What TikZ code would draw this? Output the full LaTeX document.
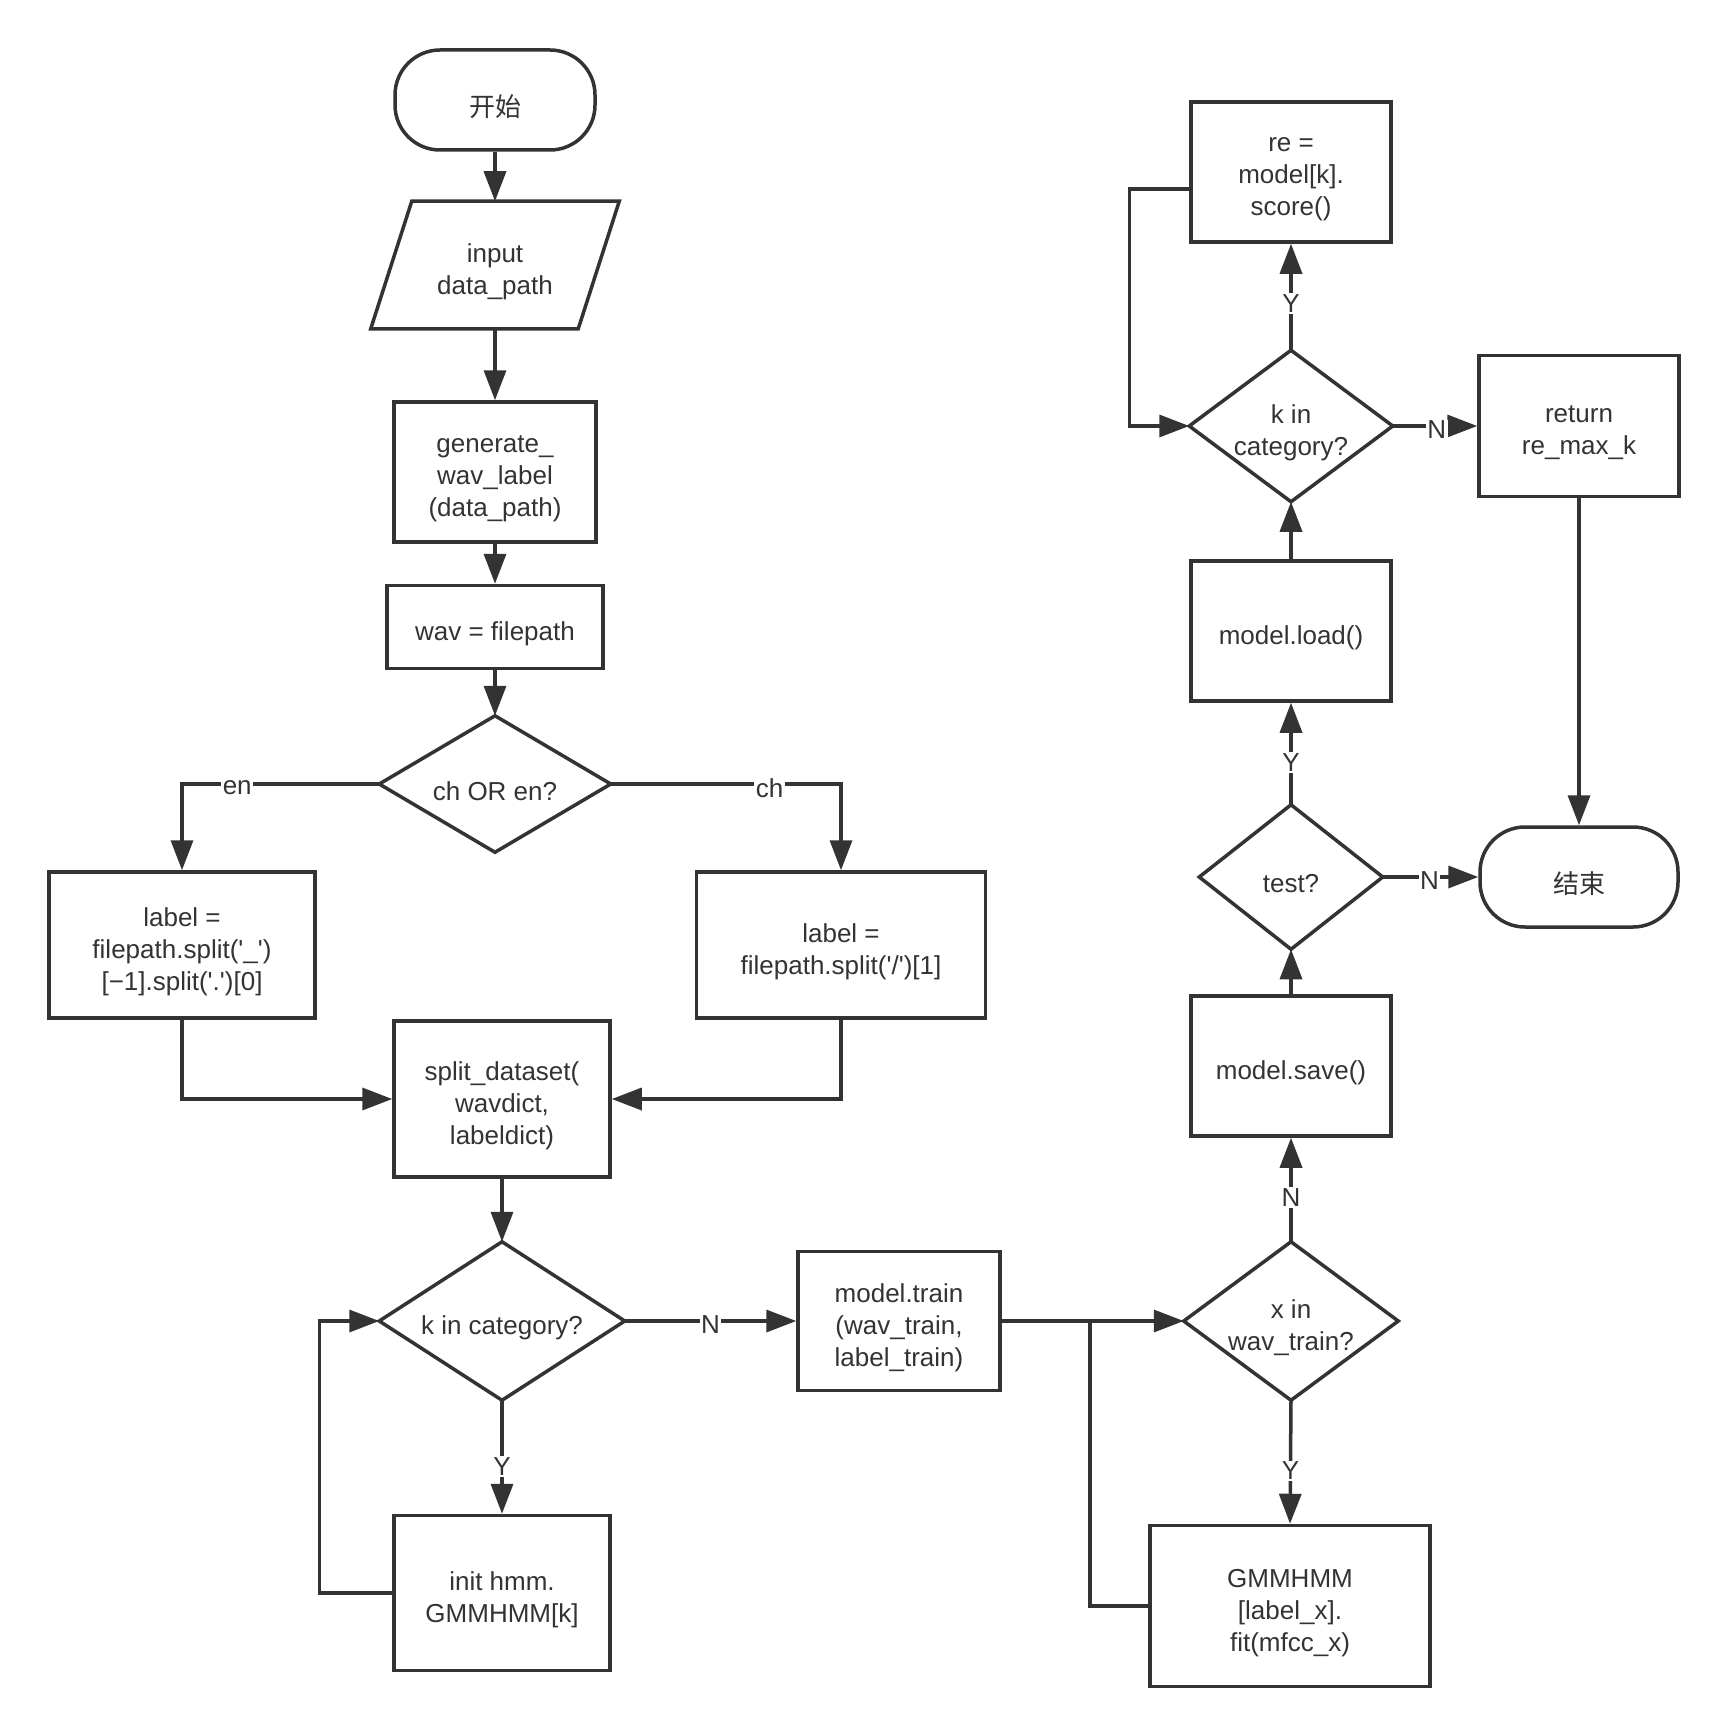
\documentclass[tikz,border=0pt]{standalone}
\usepackage{fontspec}
\newfontfamily\mf{Liberation Sans}
\newfontfamily\cjk{Noto Sans CJK SC}
\usetikzlibrary{arrows.meta}
\definecolor{ink}{HTML}{333333}
\begin{document}
\begin{tikzpicture}[x=1pt,y=-1pt,line width=3.5pt,color=ink,
  font=\mf\fontsize{26}{32}\selectfont,
  box/.style 2 args={draw,rectangle,inner sep=0pt,minimum width=#1,minimum height=#2},
  hid/.style 2 args={rectangle,inner sep=0pt,minimum width=#1,minimum height=#2},
  term/.style 2 args={draw,rectangle,rounded corners=45pt,inner sep=0pt,minimum width=#1,minimum height=#2},
  T/.style={label={[align=center,inner sep=0pt,yshift=-7pt]center:{#1}}},
  arr/.style={-{Triangle[length=30pt,width=22pt]}},
  lbl/.style={fill=white,inner sep=1.5pt,yshift=-4pt}]
\useasboundingbox (0,0) rectangle (1729,1736);
% left column
\node[term={200pt}{100pt},T={\cjk 开始}] (start) at (495,100) {};
\node[hid={204pt}{124pt},T={input\\data\_path}] (inp) at (495,265) {};
\draw ([xshift=20.5pt]inp.north west) -- ([xshift=20.5pt]inp.north east) -- ([xshift=-20.5pt]inp.south east) -- ([xshift=-20.5pt]inp.south west) -- cycle;
\node[box={202pt}{140pt},T={generate\_\\wav\_label\\(data\_path)}] (gen) at (495,472) {};
\node[box={216pt}{83pt},T={wav = filepath}] (wav) at (495,627) {};
\node[hid={228pt}{133pt},T={ch OR en?}] (d1) at (495,784) {};
\draw (d1.north) -- (d1.east) -- (d1.south) -- (d1.west) -- cycle;
\node[box={266pt}{146pt},T={label =\\filepath.split('\_')\\{}[−1].split('.')[0]}] (lft) at (182,945) {};
\node[box={289pt}{146pt},T={label =\\filepath.split('/')[1]}] (rgt) at (841,945) {};
\node[box={216pt}{156pt},T={split\_dataset(\\wavdict,\\labeldict)}] (split) at (502,1099) {};
\node[hid={242pt}{155pt},T={k in category?}] (d2) at (502,1321) {};
\draw (d2.north) -- (d2.east) -- (d2.south) -- (d2.west) -- cycle;
\node[box={216pt}{155pt},T={init hmm.\\GMMHMM[k]}] (init) at (502,1593) {};
\node[box={202pt}{139pt},T={model.train\\(wav\_train,\\label\_train)}] (train) at (899,1321) {};
% right column
\node[hid={211pt}{155pt},T={x in\\wav\_train?}] (xd) at (1291,1321) {};
\draw (xd.north) -- (xd.east) -- (xd.south) -- (xd.west) -- cycle;
\node[box={280pt}{161pt},T={GMMHMM\\{}[label\_x].\\fit(mfcc\_x)}] (gmm) at (1290,1606) {};
\node[box={200pt}{140pt},T={model.save()}] (save) at (1291,1066) {};
\node[hid={180pt}{141pt},T={test?}] (test) at (1291,877) {};
\draw (test.north) -- (test.east) -- (test.south) -- (test.west) -- cycle;
\node[box={200pt}{140pt},T={model.load()}] (load) at (1291,631) {};
\node[hid={200pt}{148pt},T={k in\\category?}] (kd) at (1291,426) {};
\draw (kd.north) -- (kd.east) -- (kd.south) -- (kd.west) -- cycle;
\node[box={200pt}{140pt},T={re =\\model[k].\\score()}] (re) at (1291,172) {};
\node[box={200pt}{141pt},T={return\\re\_max\_k}] (ret) at (1579,426) {};
\node[term={198pt}{100pt},T={\cjk 结束}] (end) at (1579,877) {};
\coordinate (j) at (1090,1321);
% connectors
\draw[arr] (start) -- (inp);
\draw[arr] (inp.south) -- (gen.north);
\draw[arr] (gen) -- (wav);
\draw[arr] (wav) -- (d1.north);
\draw[arr] (d1.west) -| node[lbl,pos=0.36]{en} (lft.north);
\draw[arr] (d1.east) -| node[lbl,pos=0.345]{ch} (rgt.north);
\draw[arr] (lft.south) |- (split.west);
\draw[arr] (rgt.south) |- (split.east);
\draw[arr] (split) -- (d2.north);
\draw[arr] (d2.south) -- node[lbl,pos=0.55]{Y} (init.north);
\draw[arr] (init.west) -- ++(-73,0) |- (d2.west);
\draw[arr] (d2.east) -- node[lbl,pos=0.5]{N} (train.west);
\draw[arr] (train.east) -- (xd.west);
\draw (gmm.west) -| (j);
\draw[arr] (xd.south) -- node[lbl,pos=0.54]{Y} (gmm.north);
\draw[arr] (xd.north) -- node[lbl,pos=0.46]{N} (save.south);
\draw[arr] (save.north) -- (test.south);
\draw[arr] (test.north) -- node[lbl,pos=0.45]{Y} (load.south);
\draw[arr] (load.north) -- (kd.south);
\draw[arr] (kd.north) -- node[lbl,pos=0.48]{Y} (re.south);
\draw[arr] ([yshift=-17pt]re.west) -- ++(-60,0) |- (kd.west);
\draw[arr] (kd.east) -- node[lbl,pos=0.52]{N} (ret.west);
\draw[arr] (ret.south) -- (end.north);
\draw[arr] (test.east) -- node[lbl,pos=0.49]{N} (end.west);
\end{tikzpicture}
\end{document}
